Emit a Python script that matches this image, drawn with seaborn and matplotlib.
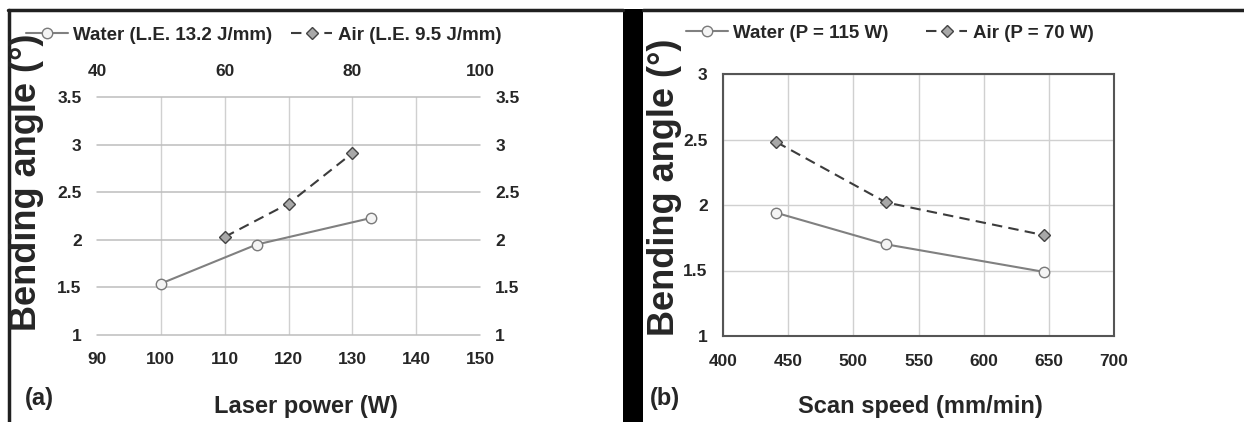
import matplotlib
matplotlib.use("Agg")
import matplotlib.pyplot as plt
import seaborn as sns
import pandas as pd
from matplotlib.lines import Line2D
from matplotlib.patches import Rectangle
from matplotlib.ticker import FixedLocator, FuncFormatter

# ---- (a) bending angle vs laser power ----
water_power = [100, 115, 133]          # bottom axis (W)
water_angle_a = [1.54, 1.95, 2.23]
air_power = [60, 70, 80]               # top axis (W)
air_angle_a = [2.03, 2.38, 2.91]

# ---- (b) bending angle vs scan speed ----
water_speed = [441, 525, 646]
water_angle_b = [1.94, 1.70, 1.49]
air_speed = [441, 525, 646]
air_angle_b = [2.48, 2.02, 1.77]

power_ticks_bottom = [90, 100, 110, 120, 130, 140, 150]
power_ticks_top = [40, 60, 80, 100]
speed_ticks = [400, 450, 500, 550, 600, 650, 700]
angle_ticks_a = [1, 1.5, 2, 2.5, 3, 3.5]
angle_ticks_b = [1, 1.5, 2, 2.5, 3]

legend_a = ["Water (L.E. 13.2 J/mm)", "Air (L.E. 9.5 J/mm)"]
legend_b = ["Water (P = 115 W)", "Air (P = 70 W)"]

sns.set_theme(style="white")
plt.rcParams["font.family"] = ["Liberation Sans", "DejaVu Sans"]
plt.rcParams["font.weight"] = "bold"
plt.rcParams["axes.labelweight"] = "bold"

W, H = 1244, 422
fig = plt.figure(figsize=(W / 100, H / 100), dpi=100)
fig.patch.set_facecolor("white")


def box(x0, y0, x1, y1):
    """pixel box (top-left origin) -> figure rect"""
    return [x0 / W, 1 - y1 / H, (x1 - x0) / W, (y1 - y0) / H]


plain = FuncFormatter(lambda v, _: f"{v:g}")

WATER = dict(color="#808080", linewidth=1.5, marker="o", markersize=7.5,
             markerfacecolor="#f4f4f4", markeredgecolor="#7a7a7a", markeredgewidth=1.0)
AIR = dict(color="#3c3c3c", linewidth=1.5, linestyle=(0, (5, 3)), marker="D",
           markersize=6.5, markerfacecolor="#a8a8a8", markeredgecolor="#444444",
           markeredgewidth=1.0)

TICK_SIZE = 12.5
LEG_PROP = dict(weight="bold", size=13.5)
GRID = "#d0d0d0"

# ================= panel (a) =================
ax_a = fig.add_axes(box(97, 97, 480, 335))
ax_a.set_facecolor("none")
df_wa = pd.DataFrame({"p": water_power, "a": water_angle_a})
sns.lineplot(data=df_wa, x="p", y="a", ax=ax_a, legend=False, label=legend_a[0],
             zorder=3, **WATER)
ax_a.set_xlim(90, 150)
ax_a.set_ylim(1, 3.5)
ax_a.xaxis.set_major_locator(FixedLocator(power_ticks_bottom))
ax_a.yaxis.set_major_locator(FixedLocator(angle_ticks_a))
ax_a.xaxis.set_major_formatter(plain)
ax_a.yaxis.set_major_formatter(plain)
ax_a.grid(False)
for xv in power_ticks_bottom[1:-1]:
    ax_a.axvline(xv, color=GRID, linewidth=1.0, zorder=0)
for yv in angle_ticks_a:
    ax_a.axhline(yv, color="#bdbdbd", linewidth=1.1, zorder=0, clip_on=False)
for s in ax_a.spines.values():
    s.set_visible(False)
ax_a.tick_params(axis="both", which="both", length=0, labelsize=TICK_SIZE)
ax_a.tick_params(axis="x", pad=12)
ax_a.tick_params(axis="y", pad=11, right=True, labelright=True)
ax_a.set_xlabel("Laser power (W)", fontsize=17)
ax_a.xaxis.set_label_coords((306 - 97) / 383, -(406 - 335) / 238)
ax_a.xaxis.label.set_va("center")
ax_a.set_ylabel("")

ax_top = ax_a.twiny()
df_aa = pd.DataFrame({"p": air_power, "a": air_angle_a})
sns.lineplot(data=df_aa, x="p", y="a", ax=ax_top, legend=False, label=legend_a[1], **AIR)
ax_top.set_xlim(40, 100)
ax_top.set_ylim(1, 3.5)
ax_top.xaxis.set_major_locator(FixedLocator(power_ticks_top))
ax_top.xaxis.set_major_formatter(plain)
ax_top.grid(False)
for s in ax_top.spines.values():
    s.set_visible(False)
ax_top.tick_params(axis="x", length=0, pad=13, labelsize=TICK_SIZE)
ax_top.set_xlabel("")
ax_top.set_ylabel("")

h1, l1 = ax_a.get_legend_handles_labels()
h2, l2 = ax_top.get_legend_handles_labels()
fig.legend(h1 + h2, l1 + l2, loc="center", bbox_to_anchor=(264 / W, 1 - 35 / H),
           ncol=2, frameon=False, handlelength=2.2, handletextpad=0.3,
           columnspacing=1.0, prop=LEG_PROP)

fig.text(27 / W, 1 - 182 / H, "Bending angle (°)", rotation=90, ha="center", va="center",
         fontsize=26, fontweight="bold")
fig.text(39 / W, 1 - 399 / H, "(a)", ha="center", va="center", fontsize=17,
         fontweight="bold")

# ================= panel (b) =================
ax_b = fig.add_axes(box(723, 74, 1114, 336))
df_wb = pd.DataFrame({"v": water_speed, "a": water_angle_b})
df_ab = pd.DataFrame({"v": air_speed, "a": air_angle_b})
sns.lineplot(data=df_wb, x="v", y="a", ax=ax_b, legend=False, label=legend_b[0], **WATER)
sns.lineplot(data=df_ab, x="v", y="a", ax=ax_b, legend=False, label=legend_b[1], **AIR)
ax_b.set_xlim(400, 700)
ax_b.set_ylim(1, 3)
ax_b.xaxis.set_major_locator(FixedLocator(speed_ticks))
ax_b.yaxis.set_major_locator(FixedLocator(angle_ticks_b))
ax_b.xaxis.set_major_formatter(plain)
ax_b.yaxis.set_major_formatter(plain)
ax_b.grid(True, color=GRID, linewidth=1.0)
for s in ax_b.spines.values():
    s.set_visible(True)
    s.set_color("#555555")
    s.set_linewidth(1.5)
ax_b.tick_params(axis="both", length=0, labelsize=TICK_SIZE)
ax_b.tick_params(axis="x", pad=13)
ax_b.tick_params(axis="y", pad=11)
ax_b.set_xlabel("Scan speed (mm/min)", fontsize=17)
ax_b.xaxis.set_label_coords((920 - 723) / 391, -(406 - 336) / 262)
ax_b.xaxis.label.set_va("center")
ax_b.set_ylabel("")

hb, lb = ax_b.get_legend_handles_labels()
fig.legend(hb, lb, loc="center", bbox_to_anchor=(890 / W, 1 - 33 / H),
           ncol=2, frameon=False, handlelength=2.2, handletextpad=0.3,
           columnspacing=2.0, prop=LEG_PROP)

fig.text(664 / W, 1 - 187 / H, "Bending angle (°)", rotation=90, ha="center", va="center",
         fontsize=26, fontweight="bold")
fig.text(665 / W, 1 - 399 / H, "(b)", ha="center", va="center", fontsize=17,
         fontweight="bold")

# ---- outer frames and divider ----
frame_kw = dict(transform=fig.transFigure, color="#202020", linewidth=2.5)
fig.add_artist(Line2D([8 / W, 623 / W], [1 - 10 / H, 1 - 10 / H], **frame_kw))
fig.add_artist(Line2D([9 / W, 9 / W], [1 - 10 / H, 0], **frame_kw))
fig.add_artist(Line2D([643 / W, 1], [1 - 10 / H, 1 - 10 / H], **frame_kw))
fig.add_artist(Rectangle((623 / W, 0), 20 / W, 1 - 9 / H, transform=fig.transFigure,
                         facecolor="black", edgecolor="none"))

fig.savefig("out.png", dpi=100, facecolor="white")
